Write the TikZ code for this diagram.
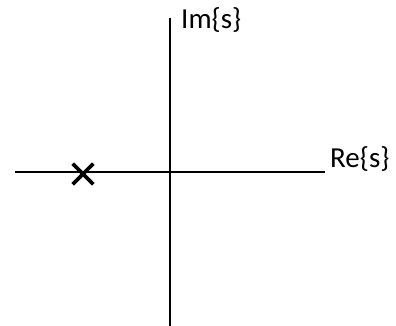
\documentclass[tikz,border=0pt]{standalone}
\usepackage{fontspec}
\setmainfont{Carlito}
\usetikzlibrary{positioning,shapes.misc}

\begin{document}
\begin{tikzpicture}[x=1pt,y=1pt,
      eje/.style={black,line width=2.4pt},
      rotulo/.style={font=\fontsize{29}{32}\selectfont,inner sep=0pt,anchor=base west},
      polo/.style={cross out,draw=black,line width=3.6pt,minimum size=17pt,inner sep=0pt}]
    \useasboundingbox (0,0) rectangle (396,326);
    % ejes del plano s
    \coordinate (reizq) at (15,154);
    \coordinate (reder) at (325,154);
    \coordinate (imarr) at (170,308);
    \coordinate (imab)  at (170,0);
    \draw[eje] (reizq) -- (reder);
    \draw[eje] (imab) -- (imarr);
    \node[rotulo] (im) at (181,297) {Im\{s\}};
    \node[rotulo] (re) at (330,158) {Re\{s\}};
    % polo
    \node[polo] (p1) at (83,152) {};
\end{tikzpicture}
\end{document}
